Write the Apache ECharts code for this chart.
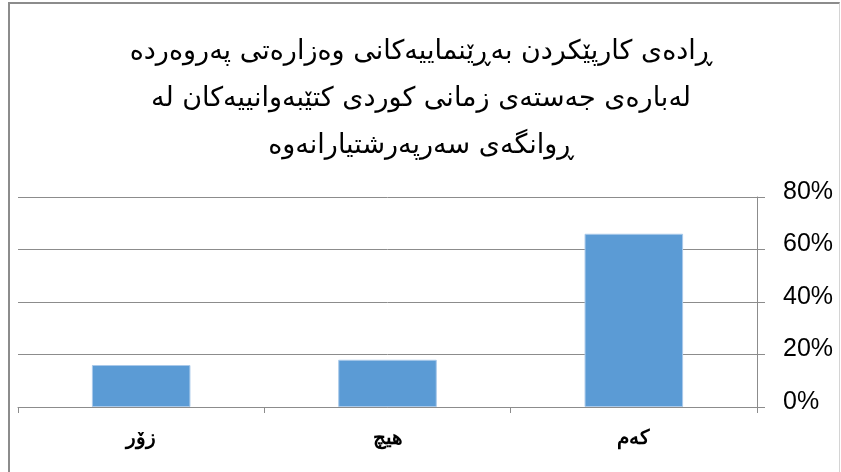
<!DOCTYPE html>
<html><head><meta charset="utf-8">
<script src="https://cdn.jsdelivr.net/npm/echarts@6/dist/echarts.min.js"></script>
<style>
html,body{margin:0;padding:0;background:#fff;}
#frame{position:absolute;left:8px;top:2px;width:829px;height:480px;border-left:2px solid #8c8c8c;border-top:2px solid #8c8c8c;border-right:1px solid #d4d4d4;}
#c{position:absolute;left:0;top:0;width:841px;height:472px;}
</style></head>
<body>
<div id="frame"></div>
<div id="c"></div>
<script>
const titleLines = [
  'ڕادەی کارپێکردن بەڕێنماییەکانی وەزارەتی پەروەردە',
  'لەبارەی جەستەی زمانی کوردی کتێبەوانییەکان لە',
  'ڕوانگەی سەرپەرشتیارانەوە'
];
const categories = ['زۆر', 'هیچ', 'کەم'];
const values = [0.16, 0.18, 0.66];
const yTicks = [0, 0.2, 0.4, 0.6, 0.8];

const chart = echarts.init(document.getElementById('c'));
chart.setOption({
  animation: false,
  title: {
    text: titleLines.join('\n'),
    left: 416, top: 23, textAlign: 'center',
    textStyle: {fontFamily: 'DejaVu Sans', fontSize: 27, fontWeight: 'normal', color: '#000', lineHeight: 47}
  },
  grid: {left: 18, right: 84, top: 197, bottom: 65},
  xAxis: {
    type: 'category', data: categories,
    axisLine: {lineStyle: {color: '#8c8c8c', width: 1}},
    axisTick: {show: true, length: 6, lineStyle: {color: '#8c8c8c'}},
    axisLabel: {margin: 22, fontSize: 20, fontWeight: 'bold', color: '#000', fontFamily: 'DejaVu Serif'}
  },
  yAxis: {
    type: 'value', position: 'right', min: 0, max: yTicks[yTicks.length-1], interval: 0.2,
    axisLine: {show: true, lineStyle: {color: '#8c8c8c', width: 1}},
    axisTick: {show: true, length: 8, lineStyle: {color: '#8c8c8c'}},
    splitLine: {lineStyle: {color: '#8c8c8c', width: 1}},
    axisLabel: {margin: 26, fontSize: 25, color: '#000', fontFamily: 'Liberation Sans',
      verticalAlign: 'bottom', lineHeight: 10,
      formatter: v => Math.round(v*100) + '%'}
  },
  series: [{
    type: 'bar', data: values, barWidth: '40%',
    itemStyle: {color: '#5b9bd5', borderColor: '#a9c9ea', borderWidth: 1}
  }]
});
</script>
</body></html>
